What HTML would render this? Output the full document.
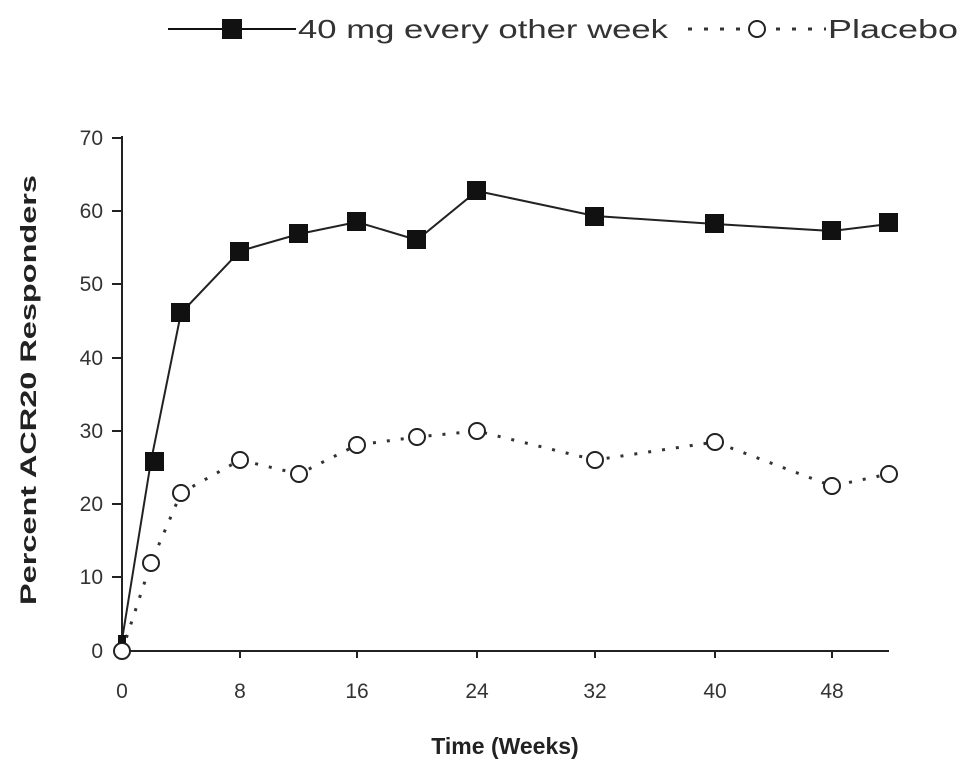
<!DOCTYPE html>
<html><head><style>html,body{margin:0;padding:0;background:#fff;}svg{display:block;}</style></head>
<body>
<svg width="964" height="771" xmlns="http://www.w3.org/2000/svg" font-family="Liberation Sans, Arial, sans-serif">
<!-- legend -->
<line x1="168" y1="29" x2="296" y2="29" stroke="#111" stroke-width="2"/>
<rect x="222" y="19" width="20" height="20" fill="#111"/>
<text x="298" y="38" font-size="26" fill="#333" textLength="370" lengthAdjust="spacingAndGlyphs">40 mg every other week</text>
<line x1="688" y1="29" x2="745" y2="29" stroke="#333" stroke-width="3" stroke-dasharray="4,12"/>
<circle cx="757" cy="29" r="8" fill="#fff" stroke="#222" stroke-width="2"/>
<line x1="776" y1="29" x2="826" y2="29" stroke="#333" stroke-width="3" stroke-dasharray="4,12"/>
<text x="828" y="38" font-size="26" fill="#333" textLength="130" lengthAdjust="spacingAndGlyphs">Placebo</text>
<!-- axes -->
<line x1="122" y1="136" x2="122" y2="651" stroke="#222" stroke-width="2"/>
<line x1="121" y1="651" x2="889" y2="651" stroke="#222" stroke-width="2"/>
<g stroke="#222" stroke-width="2">
<line x1="112" y1="138" x2="122" y2="138"/><line x1="112" y1="211" x2="122" y2="211"/><line x1="112" y1="284" x2="122" y2="284"/><line x1="112" y1="358" x2="122" y2="358"/><line x1="112" y1="431" x2="122" y2="431"/><line x1="112" y1="504" x2="122" y2="504"/><line x1="112" y1="577" x2="122" y2="577"/>
<line x1="240" y1="651" x2="240" y2="658"/><line x1="357" y1="651" x2="357" y2="658"/><line x1="477" y1="651" x2="477" y2="658"/><line x1="595" y1="651" x2="595" y2="658"/><line x1="715" y1="651" x2="715" y2="658"/><line x1="832" y1="651" x2="832" y2="658"/>
</g>
<g font-size="21" fill="#333" text-anchor="end">
<text x="103" y="145">70</text><text x="103" y="218">60</text><text x="103" y="291">50</text><text x="103" y="365">40</text><text x="103" y="438">30</text><text x="103" y="511">20</text><text x="103" y="584">10</text><text x="103" y="658">0</text>
</g>
<g font-size="21" fill="#333" text-anchor="middle">
<text x="122" y="698">0</text><text x="240" y="698">8</text><text x="357" y="698">16</text><text x="477" y="698">24</text><text x="595" y="698">32</text><text x="715" y="698">40</text><text x="832" y="698">48</text>
</g>
<text x="505" y="754" font-size="23" font-weight="bold" fill="#222" text-anchor="middle">Time (Weeks)</text>
<text transform="translate(36,390) rotate(-90)" font-size="22" font-weight="bold" fill="#222" text-anchor="middle" textLength="430" lengthAdjust="spacingAndGlyphs">Percent ACR20 Responders</text>
<!-- placebo -->
<polyline fill="none" stroke="#333" stroke-width="3" stroke-dasharray="3,11" points="122,651 151,563 181,493 240,460 299,474 357,445 417,437 477,431 595,460 715,442 832,486 889,474"/>
<g fill="#fff" stroke="#222" stroke-width="2">
<circle cx="122" cy="651" r="8"/><circle cx="151" cy="563" r="8"/><circle cx="181" cy="493" r="8"/><circle cx="240" cy="460" r="8"/><circle cx="299" cy="474" r="8"/><circle cx="357" cy="445" r="8"/><circle cx="417" cy="437" r="8"/><circle cx="477" cy="431" r="8"/><circle cx="595" cy="460" r="8"/><circle cx="715" cy="442" r="8"/><circle cx="832" cy="486" r="8"/><circle cx="889" cy="474" r="8"/>
</g>
<!-- active -->
<polyline fill="none" stroke="#222" stroke-width="2" points="122,640 151,461 181,313 240,251 299,234 357,222 417,240 477,191 595,216 715,224 832,231 889,224"/>
<g fill="#111">
<rect x="145" y="452" width="19" height="19"/><rect x="171" y="303" width="19" height="19"/><rect x="230" y="242" width="19" height="19"/><rect x="289" y="224" width="19" height="19"/><rect x="347" y="212" width="19" height="19"/><rect x="407" y="230" width="19" height="19"/><rect x="467" y="181" width="19" height="19"/><rect x="585" y="207" width="19" height="19"/><rect x="705" y="214" width="19" height="19"/><rect x="822" y="221" width="19" height="19"/><rect x="879" y="213" width="19" height="19"/>
<rect x="118" y="635" width="8" height="8"/>
</g>
</svg>
</body></html>
